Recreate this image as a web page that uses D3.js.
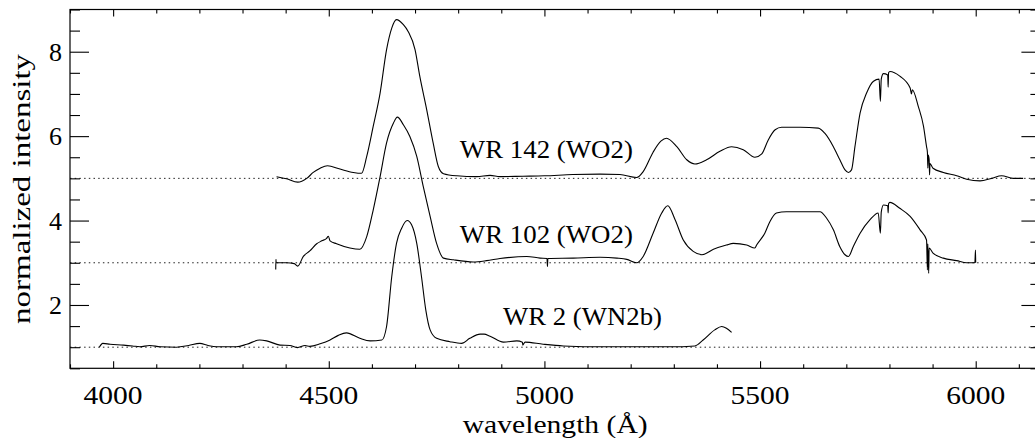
<!DOCTYPE html>
<html>
<head>
<meta charset="utf-8">
<script src="https://cdn.jsdelivr.net/npm/d3@7"></script>
<style>
  body { margin: 0; background: #fff; }
  svg { display: block; }
</style>
</head>
<body>
<div id="chart"></div>
<script>
// wavelength (A) / normalized intensity
const wr142Wave = [4379, 4402, 4428, 4449, 4464, 4480, 4497, 4526, 4557, 4576, 4588, 4603, 4619, 4634, 4646, 4657, 4673, 4684, 4700, 4711, 4727, 4742, 4754, 4766, 4797, 4843, 4874, 4897, 4950, 5000, 5066, 5129, 5175, 5214, 5229, 5252, 5270, 5283, 5307, 5330, 5349, 5376, 5407, 5434, 5461, 5488, 5504, 5519, 5535, 5550, 5593, 5635, 5650, 5670, 5685, 5697, 5705, 5712, 5720, 5732, 5747, 5763, 5776, 5779, 5781, 5786, 5796, 5797, 5798, 5801, 5824, 5848, 5851, 5853, 5867, 5879, 5886, 5888, 5889, 5890, 5892, 5893, 5894, 5901, 5925, 5956, 5979, 6010, 6037, 6060, 6087, 6110];
const wr142Flux = [5.04, 4.99, 4.91, 5.00, 5.14, 5.24, 5.30, 5.22, 5.14, 5.12, 5.52, 6.23, 7.02, 8.05, 8.56, 8.76, 8.64, 8.48, 8.05, 7.42, 6.63, 5.84, 5.28, 5.11, 5.06, 5.04, 5.07, 5.04, 5.05, 5.06, 5.09, 5.10, 5.09, 5.02, 5.16, 5.62, 5.88, 5.95, 5.75, 5.44, 5.34, 5.44, 5.64, 5.75, 5.68, 5.50, 5.58, 5.91, 6.15, 6.21, 6.21, 6.19, 6.07, 5.75, 5.44, 5.20, 5.14, 5.20, 5.75, 6.55, 7.02, 7.30, 7.35, 6.82, 7.35, 7.48, 7.45, 7.16, 7.50, 7.53, 7.42, 7.14, 7.00, 7.10, 6.70, 6.23, 5.75, 5.62, 5.24, 5.55, 5.45, 5.08, 5.35, 5.24, 5.14, 5.06, 4.98, 4.94, 5.00, 5.06, 5.00, 5.00];

const wr102Wave = [4377, 4377.5, 4378, 4402, 4420, 4428, 4441, 4456, 4472, 4484, 4495, 4499, 4503, 4518, 4549, 4572, 4588, 4603, 4619, 4634, 4650, 4659, 4673, 4688, 4704, 4719, 4735, 4750, 4766, 4789, 4835, 4866, 4897, 4959, 4990, 5006, 5007, 5008, 5067, 5129, 5168, 5191, 5214, 5229, 5252, 5272, 5286, 5303, 5322, 5345, 5365, 5392, 5422, 5438, 5469, 5488, 5492, 5511, 5523, 5538, 5561, 5593, 5639, 5654, 5670, 5685, 5697, 5705, 5716, 5732, 5755, 5774, 5779, 5781, 5786, 5796, 5797, 5798, 5801, 5824, 5848, 5871, 5886, 5888, 5889, 5891, 5892, 5901, 5925, 5956, 5979, 5998, 5999.5, 6000];
const wr102Flux = [2.84, 3.08, 3.00, 3.00, 2.98, 2.92, 3.15, 3.28, 3.45, 3.52, 3.58, 3.63, 3.52, 3.45, 3.35, 3.32, 3.62, 4.25, 5.04, 5.84, 6.31, 6.45, 6.27, 5.99, 5.52, 4.81, 4.10, 3.46, 3.11, 3.07, 3.02, 3.05, 3.10, 3.15, 3.11, 3.10, 2.91, 3.10, 3.11, 3.13, 3.11, 3.08, 3.00, 3.15, 3.70, 4.18, 4.35, 4.02, 3.54, 3.27, 3.19, 3.32, 3.42, 3.46, 3.42, 3.35, 3.42, 3.70, 3.98, 4.18, 4.21, 4.21, 4.21, 4.06, 3.78, 3.38, 3.19, 3.15, 3.38, 3.70, 4.02, 4.18, 3.70, 4.20, 4.37, 4.35, 4.18, 4.40, 4.43, 4.29, 4.10, 3.78, 3.54, 2.83, 3.45, 2.75, 3.35, 3.23, 3.11, 3.05, 3.00, 3.00, 3.30, 3.00];

const wr2Wave = [3968, 3976, 3993, 4024, 4045, 4062, 4085, 4109, 4147, 4175, 4201, 4220, 4240, 4286, 4310, 4340, 4356, 4387, 4410, 4427, 4445, 4456, 4480, 4503, 4522, 4541, 4572, 4596, 4623, 4634, 4646, 4657, 4669, 4682, 4692, 4704, 4715, 4725, 4735, 4750, 4781, 4808, 4827, 4851, 4860, 4874, 4905, 4936, 4949, 4950, 4955, 4997, 5044, 5137, 5291, 5349, 5368, 5395, 5411, 5422, 5434];
const wr2Flux = [1.00, 1.09, 1.07, 1.05, 1.03, 1.01, 1.04, 1.01, 1.00, 1.04, 1.09, 1.04, 1.01, 1.01, 1.07, 1.17, 1.15, 1.05, 1.04, 0.99, 1.04, 1.02, 1.08, 1.17, 1.28, 1.34, 1.21, 1.15, 1.17, 1.49, 2.67, 3.46, 3.82, 4.00, 3.90, 3.46, 2.67, 1.88, 1.41, 1.21, 1.13, 1.09, 1.21, 1.31, 1.31, 1.26, 1.12, 1.15, 1.12, 1.05, 1.12, 1.07, 1.03, 1.01, 1.01, 1.03, 1.17, 1.41, 1.49, 1.45, 1.35];

const starNames = ["WR 142 (WO2)", "WR 102 (WO2)", "WR 2 (WN2b)"];
const continuumLevels = [5, 3, 1];
const xTickValues = [4000, 4500, 5000, 5500, 6000];
const yTickValues = [2, 4, 6, 8];

const W = 1035, H = 438;
const margin = {left: 70, right: 1040.4, top: 9.5, bottom: 368.3};
const font = "'Liberation Serif', 'Times New Roman', serif";

const svg = d3.select("#chart").append("svg")
    .attr("width", W)
    .attr("height", H);

const x = d3.scaleLinear().domain([3900, 6150]).range([margin.left, margin.right]);
const y = d3.scaleLinear().domain([0.5, 9]).range([margin.bottom, margin.top]);

// dotted continuum levels
svg.append("g").selectAll("line")
    .data(continuumLevels)
    .enter().append("line")
    .attr("x1", margin.left).attr("x2", margin.right)
    .attr("y1", d => y(d)).attr("y2", d => y(d))
    .attr("stroke", "#222")
    .attr("stroke-width", 1)
    .attr("stroke-dasharray", "1.5,3.2");

// spectra
const spectra = [
    {wave: wr142Wave, flux: wr142Flux},
    {wave: wr102Wave, flux: wr102Flux},
    {wave: wr2Wave, flux: wr2Flux}
];
const lineGen = d3.line()
    .x(d => x(d[0]))
    .y(d => y(d[1]))
    .curve(d3.curveMonotoneX);

spectra.forEach(s => {
    const pts = s.wave.map((w, i) => [w, s.flux[i]]);
    svg.append("path")
        .attr("d", lineGen(pts))
        .attr("fill", "none")
        .attr("stroke", "#000")
        .attr("stroke-width", 1.1);
});

// frame
svg.append("rect")
    .attr("x", margin.left).attr("y", margin.top)
    .attr("width", margin.right - margin.left).attr("height", margin.bottom - margin.top)
    .attr("fill", "none")
    .attr("stroke", "#000")
    .attr("stroke-width", 1.2);

// axes - major + minor ticks on all four sides
const xMinor = d3.range(3900, 6151, 100).filter(v => v % 500 !== 0);
const yMinor = d3.range(0.5, 9.01, 0.5).filter(v => v % 2 !== 0);

const axB = svg.append("g").attr("transform", `translate(0,${margin.bottom})`);
axB.call(d3.axisTop(x).tickValues(xTickValues).tickSize(7).tickFormat(""));
axB.append("g").call(d3.axisTop(x).tickValues(xMinor).tickSize(4).tickFormat(""));
const axT = svg.append("g").attr("transform", `translate(0,${margin.top})`);
axT.call(d3.axisBottom(x).tickValues(xTickValues).tickSize(7).tickFormat(""));
axT.append("g").call(d3.axisBottom(x).tickValues(xMinor).tickSize(4).tickFormat(""));
const axL = svg.append("g").attr("transform", `translate(${margin.left},0)`);
axL.call(d3.axisRight(y).tickValues(yTickValues).tickSize(19).tickFormat(""));
axL.append("g").call(d3.axisRight(y).tickValues(yMinor).tickSize(10).tickFormat(""));
const axR = svg.append("g").attr("transform", `translate(${margin.right},0)`);
axR.call(d3.axisLeft(y).tickValues(yTickValues).tickSize(19).tickFormat(""));
axR.append("g").call(d3.axisLeft(y).tickValues(yMinor).tickSize(10).tickFormat(""));
svg.selectAll(".domain").remove();
svg.selectAll(".tick line").attr("stroke", "#000").attr("stroke-width", 1.1);

// tick labels
svg.append("g").selectAll("text")
    .data(xTickValues)
    .enter().append("text")
    .attr("x", d => x(d))
    .attr("y", 403.5)
    .attr("text-anchor", "middle")
    .attr("textLength", 59)
    .attr("lengthAdjust", "spacingAndGlyphs")
    .style("font-family", font)
    .style("font-size", "26px")
    .text(d => d);

svg.append("g").selectAll("text")
    .data(yTickValues)
    .enter().append("text")
    .attr("x", 62)
    .attr("y", d => y(d) + 9)
    .attr("text-anchor", "end")
    .style("font-family", font)
    .style("font-size", "26px")
    .text(d => d);

// axis titles
svg.append("text")
    .attr("x", (margin.left + margin.right) / 2)
    .attr("y", 433)
    .attr("text-anchor", "middle")
    .attr("textLength", 185)
    .attr("lengthAdjust", "spacingAndGlyphs")
    .style("font-family", font)
    .style("font-size", "25px")
    .text("wavelength (Å)");

svg.append("text")
    .attr("transform", `translate(30,${(margin.top + margin.bottom) / 2}) rotate(-90)`)
    .attr("text-anchor", "middle")
    .attr("textLength", 270)
    .attr("lengthAdjust", "spacingAndGlyphs")
    .style("font-family", font)
    .style("font-size", "25px")
    .text("normalized intensity");

// star labels
const labelPos = [[4804, 5.48, 173], [4804, 3.48, 173], [4904, 1.53, 159]];
svg.append("g").selectAll("text")
    .data(starNames)
    .enter().append("text")
    .attr("x", (d, i) => x(labelPos[i][0]))
    .attr("y", (d, i) => y(labelPos[i][1]))
    .attr("textLength", (d, i) => labelPos[i][2])
    .attr("lengthAdjust", "spacingAndGlyphs")
    .style("font-family", font)
    .style("font-size", "25px")
    .text(d => d);
</script>
</body>
</html>
